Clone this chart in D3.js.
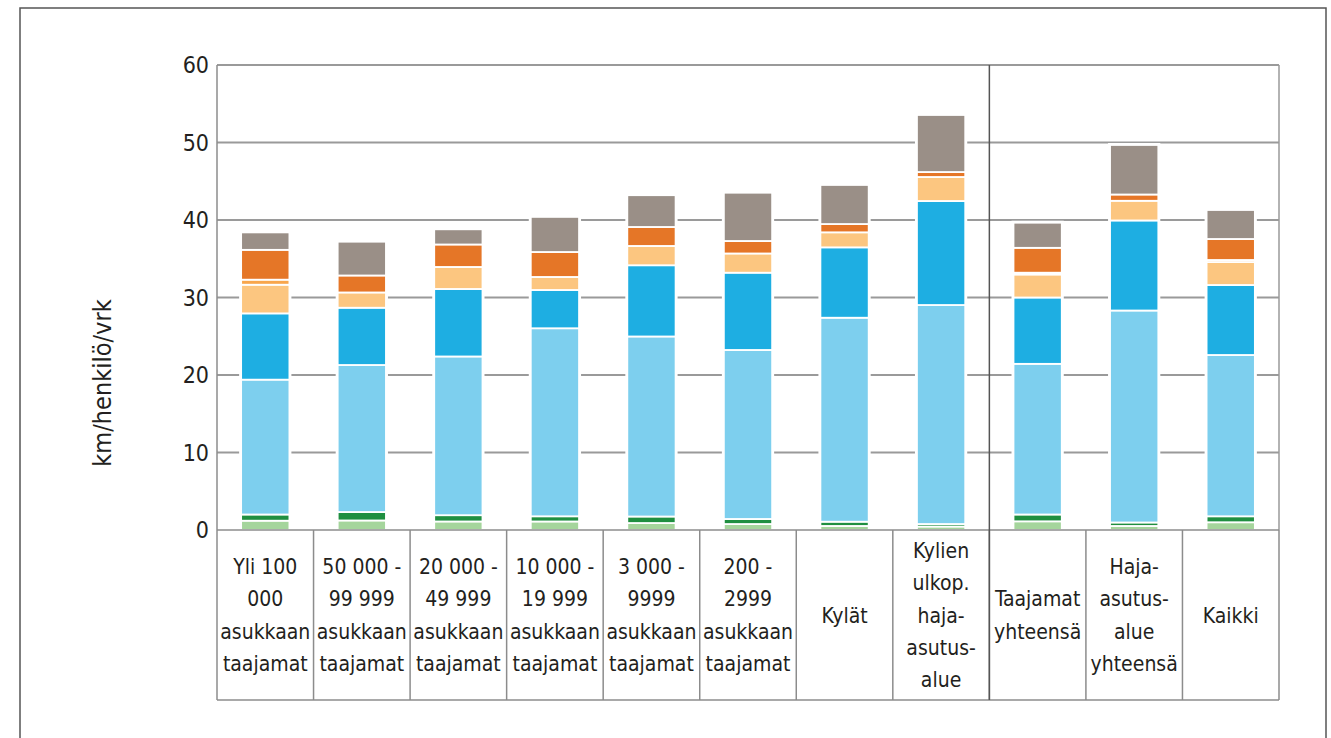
<!DOCTYPE html>
<html>
<head>
<meta charset="utf-8">
<script src="https://cdn.jsdelivr.net/npm/d3@7"></script>
<style>
  body { margin: 0; background: #fff; }
  svg text { font-family: "Liberation Sans Narrow", "DejaVu Sans Condensed", "Roboto", sans-serif; fill: #231f20; }
</style>
</head>
<body>
<svg id="visuals" width="1331" height="738"></svg>
<script>
// category labels, one entry per text line
const categories = [
  ["Yli 100", "000", "asukkaan", "taajamat"],
  ["50 000 -", "99 999", "asukkaan", "taajamat"],
  ["20 000 -", "49 999", "asukkaan", "taajamat"],
  ["10 000 -", "19 999", "asukkaan", "taajamat"],
  ["3 000 -", "9999", "asukkaan", "taajamat"],
  ["200 -", "2999", "asukkaan", "taajamat"],
  ["Kylät"],
  ["Kylien", "ulkop.", "haja-", "asutus-", "alue"],
  ["Taajamat", "yhteensä"],
  ["Haja-", "asutus-", "alue", "yhteensä"],
  ["Kaikki"],
];

// km/henkilö/vrk by mode, bottom to top
const walking    = [1.2, 1.23, 1.1, 1.1, 0.9, 0.77, 0.52, 0.45, 1.12, 0.52, 1.0];
const cycling    = [0.8, 1.09, 0.81, 0.67, 0.84, 0.65, 0.55, 0.32, 0.88, 0.45, 0.77];
const carDriver  = [17.4, 18.97, 20.48, 24.26, 23.23, 21.81, 26.32, 28.26, 19.44, 27.35, 20.81];
const carPass    = [8.55, 7.39, 8.71, 4.94, 9.19, 9.97, 9.08, 13.42, 8.56, 11.62, 9.03];
const bus        = [3.7, 1.97, 2.84, 1.68, 2.49, 2.48, 1.94, 3.1, 2.97, 2.54, 2.97];
const tram       = [0.65, 0, 0, 0, 0, 0, 0, 0, 0.23, 0, 0.26];
const train      = [3.85, 2.19, 2.9, 3.22, 2.45, 1.61, 1.07, 0.64, 3.21, 0.81, 2.71];
const other      = [2.25, 4.36, 1.96, 4.53, 4.1, 6.23, 5.04, 7.36, 3.24, 6.39, 3.74];

const yTicks = [0, 10, 20, 30, 40, 50, 60];

const series = [walking, cycling, carDriver, carPass, bus, tram, train, other];
const colors = ["#a5d59c", "#1f8f40", "#7dcfee", "#1eaee2", "#fcc680", "#f8a64c", "#e57627", "#9a8f87"];

const plotL = 217, plotR = 1279, plotT = 65, base = 530, tableBottom = 700;

const svg = d3.select("#visuals");

const x = d3.scaleBand()
  .domain(categories.map((c, i) => i))
  .range([plotL, plotR])
  .paddingInner(0.5)
  .paddingOuter(0.25);

const y = d3.scaleLinear().domain([0, 60]).range([base, plotT]);

// outer frame
svg.append("rect")
  .attr("x", 20).attr("y", 8)
  .attr("width", 1306).attr("height", 760)
  .attr("fill", "none").attr("stroke", "#555").attr("stroke-width", 1.5);

// gridlines
svg.append("g")
  .selectAll("line")
  .data(yTicks.filter((t) => t > 0))
  .join("line")
  .attr("x1", plotL).attr("x2", plotR)
  .attr("y1", (d) => y(d)).attr("y2", (d) => y(d))
  .attr("stroke", "#9a9a9a").attr("stroke-width", 2);

// tick labels
svg.append("g")
  .selectAll("text")
  .data(yTicks)
  .join("text")
  .attr("x", 209)
  .attr("y", (d) => y(d))
  .attr("dy", "0.36em")
  .attr("text-anchor", "end")
  .attr("font-size", 23)
  .text((d) => d);

// axis title
svg.append("text")
  .attr("transform", "translate(111,383) rotate(-90)")
  .attr("text-anchor", "middle")
  .attr("font-size", 25)
  .text("km/henkilö/vrk");

// stacked bars
const rows = categories.map((c, i) => {
  const r = { i };
  series.forEach((s, k) => (r["s" + k] = s[i]));
  return r;
});
const stack = d3.stack().keys(series.map((s, k) => "s" + k))(rows);

// white halo behind each bar so gridlines break around it
svg.append("g")
  .selectAll("rect")
  .data(rows)
  .join("rect")
  .attr("x", (d) => x(d.i) - 2)
  .attr("width", x.bandwidth() + 4)
  .attr("y", (d) => y(d3.sum(series, (s) => s[d.i])) - 2)
  .attr("height", (d) => base - y(d3.sum(series, (s) => s[d.i])) + 2)
  .attr("fill", "#fff");

svg.append("g")
  .selectAll("g")
  .data(stack)
  .join("g")
  .attr("fill", (d, k) => colors[k])
  .selectAll("rect")
  .data((d) => d.filter((p) => p[1] - p[0] > 0))
  .join("rect")
  .attr("x", (p) => x(p.data.i))
  .attr("width", x.bandwidth())
  .attr("y", (p) => y(p[1]))
  .attr("height", (p) => y(p[0]) - y(p[1]))
  .attr("stroke", "#fff")
  .attr("stroke-width", 1.8);

// category table
const step = x.step();
const cellEdges = categories.map((c, i) => plotL + i * step).concat([plotR]);

svg.append("g")
  .selectAll("line")
  .data(cellEdges)
  .join("line")
  .attr("x1", (d) => d).attr("x2", (d) => d)
  .attr("y1", base).attr("y2", tableBottom)
  .attr("stroke", "#8c8c8c").attr("stroke-width", 1.5);

svg.append("line")
  .attr("x1", plotL).attr("x2", plotR)
  .attr("y1", tableBottom).attr("y2", tableBottom)
  .attr("stroke", "#8c8c8c").attr("stroke-width", 1.5);

// left axis and right edge
svg.append("line")
  .attr("x1", plotL).attr("x2", plotL).attr("y1", plotT).attr("y2", base)
  .attr("stroke", "#8c8c8c").attr("stroke-width", 1.5);
svg.append("line")
  .attr("x1", plotR).attr("x2", plotR).attr("y1", plotT).attr("y2", base)
  .attr("stroke", "#9a9a9a").attr("stroke-width", 1.5);

// baseline
svg.append("line")
  .attr("x1", plotL).attr("x2", plotR).attr("y1", base).attr("y2", base)
  .attr("stroke", "#8c8c8c").attr("stroke-width", 1.5);

// separator before totals
svg.append("line")
  .attr("x1", plotL + 8 * step).attr("x2", plotL + 8 * step)
  .attr("y1", plotT).attr("y2", tableBottom)
  .attr("stroke", "#555").attr("stroke-width", 1.5);

const lineH = 32.2;
const labels = svg.append("g")
  .selectAll("text")
  .data(categories)
  .join("text")
  .attr("text-anchor", "middle")
  .attr("font-size", 21)
  .attr("x", (c, i) => x(i) + x.bandwidth() / 2);

labels.each(function (c) {
  const startY = (base + tableBottom) / 2 - ((c.length - 1) * lineH) / 2;
  const cx = d3.select(this).attr("x");
  d3.select(this)
    .selectAll("tspan")
    .data(c)
    .join("tspan")
    .attr("x", cx)
    .attr("y", (t, j) => startY + j * lineH)
    .attr("dy", "0.36em")
    .text((t) => t);
});
</script>
</body>
</html>
